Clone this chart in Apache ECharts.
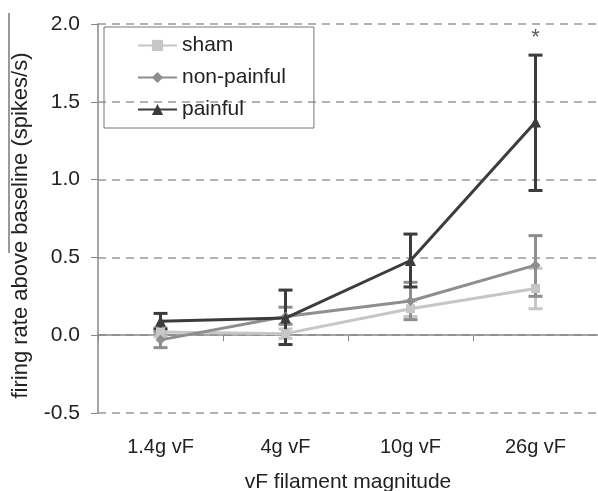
<!DOCTYPE html>
<html>
<head>
<meta charset="utf-8">
<script src="https://cdn.jsdelivr.net/npm/echarts@6/dist/echarts.min.js"></script>
<style>
  html, body { margin: 0; padding: 0; background: #fff; }
  #main { width: 598px; height: 491px; }
</style>
</head>
<body>
<div id="main"></div>
<script>
// data
var categories = ['1.4g vF', '4g vF', '10g vF', '26g vF'];
var shamMean = [0.02, 0.01, 0.17, 0.30];
var shamLow = [-0.01, -0.02, 0.12, 0.17];
var shamHigh = [0.05, 0.04, 0.22, 0.43];
var nonPainfulMean = [-0.03, 0.12, 0.22, 0.45];
var nonPainfulLow = [-0.08, 0.07, 0.10, 0.25];
var nonPainfulHigh = [0.02, 0.18, 0.34, 0.64];
var painfulMean = [0.09, 0.11, 0.48, 1.37];
var painfulLow = [0.04, -0.06, 0.31, 0.93];
var painfulHigh = [0.14, 0.29, 0.65, 1.80];
var yTicks = [-0.5, 0.0, 0.5, 1.0, 1.5, 2.0];
// significance mark: category index 3 (26g), painful group
var starIndex = 3;

var font = 'Liberation Sans, Arial, sans-serif';

// error bar series (vertical bar + caps)
function errorSeries(name, low, high, color) {
    var data = low.map(function (v, i) { return [i, v, high[i]]; });
    return {
        name: name + ' error',
        type: 'custom',
        data: data,
        z: 3,
        renderItem: function (params, api) {
            var x = api.value(0);
            var lo = api.coord([x, api.value(1)]);
            var hi = api.coord([x, api.value(2)]);
            var w = 7;
            var st = { stroke: color, lineWidth: 3 };
            return {
                type: 'group',
                children: [
                    { type: 'line', shape: { x1: lo[0], y1: lo[1], x2: hi[0], y2: hi[1] }, style: st },
                    { type: 'line', shape: { x1: lo[0] - w, y1: lo[1], x2: lo[0] + w, y2: lo[1] }, style: st },
                    { type: 'line', shape: { x1: hi[0] - w, y1: hi[1], x2: hi[0] + w, y2: hi[1] }, style: st }
                ]
            };
        },
        encode: { x: 0, y: [1, 2] },
        silent: true
    };
}

var myChart = echarts.init(document.getElementById('main'));
var option = {
    backgroundColor: '#fff',
    animation: false,
    textStyle: { fontFamily: font },
    grid: { left: 98, right: 0, top: 24, bottom: 78, containLabel: false, outerBoundsMode: 'none' },
    legend: {
        orient: 'vertical',
        left: 104,
        top: 27,
        padding: [8, 28, 8, 33],
        itemGap: 11,
        itemWidth: 39,
        itemHeight: 14,
        borderColor: '#777',
        borderWidth: 1,
        borderRadius: 0,
        textStyle: { fontSize: 21, color: '#222', fontFamily: font },
        data: ['sham', 'non-painful', 'painful']
    },
    graphic: [{
        type: 'line',
        shape: { x1: 9, y1: 13, x2: 9, y2: 253 },
        style: { stroke: '#777', lineWidth: 1.5 }
    }],
    xAxis: {
        type: 'category',
        data: categories,
        boundaryGap: true,
        name: 'vF filament magnitude',
        nameLocation: 'middle',
        nameGap: 59,
        nameTextStyle: { fontSize: 21, color: '#222', fontFamily: font },
        axisLine: { lineStyle: { color: '#888', width: 1.5 } },
        axisTick: { show: true, length: 6, lineStyle: { color: '#888' } },
        axisLabel: { fontSize: 20, color: '#222', margin: 24, fontFamily: font },
        splitLine: { show: false }
    },
    yAxis: {
        type: 'value',
        min: yTicks[0],
        max: yTicks[yTicks.length - 1],
        interval: 0.5,
        name: 'firing rate above baseline (spikes/s)',
        nameLocation: 'middle',
        nameGap: 66,
        nameTextStyle: { fontSize: 22, color: '#222', fontFamily: font, padding: [0, 14, 0, 0] },
        axisLine: { show: true, lineStyle: { color: '#888', width: 1.5 } },
        axisTick: { show: true, length: 7, lineStyle: { color: '#888' } },
        axisLabel: {
            fontSize: 21, color: '#222', margin: 18, fontFamily: font,
            formatter: function (v) { return v.toFixed(1); }
        },
        splitLine: { show: true, lineStyle: { color: '#999', type: [8, 6], width: 1.5 } }
    },
    series: [
        errorSeries('sham', shamLow, shamHigh, '#c6c6c6'),
        errorSeries('non-painful', nonPainfulLow, nonPainfulHigh, '#8e8e8e'),
        errorSeries('painful', painfulLow, painfulHigh, '#3c3c3c'),
        {
            name: 'sham', type: 'line', data: shamMean, z: 4,
            symbol: 'rect', symbolSize: 9,
            itemStyle: { color: '#c6c6c6' },
            lineStyle: { color: '#c6c6c6', width: 3 }
        },
        {
            name: 'non-painful', type: 'line', data: nonPainfulMean, z: 5,
            symbol: 'diamond', symbolSize: 10,
            itemStyle: { color: '#8e8e8e' },
            lineStyle: { color: '#8e8e8e', width: 3 }
        },
        {
            name: 'painful', type: 'line', data: painfulMean, z: 6,
            symbol: 'triangle', symbolSize: 11,
            itemStyle: { color: '#3c3c3c' },
            lineStyle: { color: '#3c3c3c', width: 3 }
        },
        {
            name: 'significance', type: 'scatter', z: 7, silent: true,
            data: [[starIndex, painfulHigh[starIndex]]],
            symbolSize: 1,
            itemStyle: { color: 'rgba(0,0,0,0)' },
            label: {
                show: true, formatter: '*', position: 'top', distance: 6,
                fontSize: 22, color: '#333', fontFamily: font
            }
        }
    ]
};
myChart.setOption(option);
</script>
</body>
</html>
